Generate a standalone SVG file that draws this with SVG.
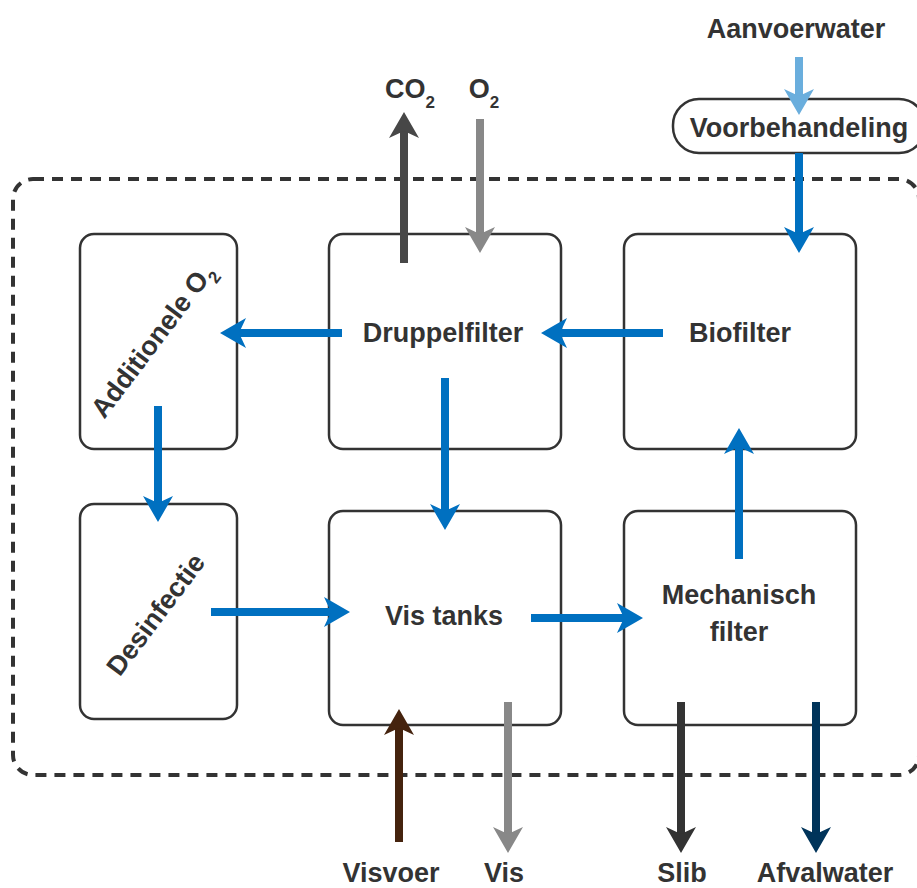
<svg xmlns="http://www.w3.org/2000/svg" width="917" height="888" viewBox="0 0 917 888">
<style>
.box{fill:#fff;stroke:#333;stroke-width:2.5}
.t{font-family:"Liberation Sans",Arial,sans-serif;font-weight:bold;font-size:27px;fill:#333;text-anchor:middle}
.sub{font-size:17px}
.a{fill:none;stroke-width:8}
</style>
<defs>
<marker id="hb" markerUnits="userSpaceOnUse" viewBox="0 0 26 30" refX="14" refY="15" markerWidth="26" markerHeight="30" orient="auto"><path d="M0,0 L26,15 L0,30 L7,15 Z" fill="#0070c0"/></marker>
<marker id="hl" markerUnits="userSpaceOnUse" viewBox="0 0 26 30" refX="14" refY="15" markerWidth="26" markerHeight="30" orient="auto"><path d="M0,0 L26,15 L0,30 L7,15 Z" fill="#6aaedd"/></marker>
<marker id="hd" markerUnits="userSpaceOnUse" viewBox="0 0 26 30" refX="14" refY="15" markerWidth="26" markerHeight="30" orient="auto"><path d="M0,0 L26,15 L0,30 L7,15 Z" fill="#474747"/></marker>
<marker id="hg" markerUnits="userSpaceOnUse" viewBox="0 0 26 30" refX="14" refY="15" markerWidth="26" markerHeight="30" orient="auto"><path d="M0,0 L26,15 L0,30 L7,15 Z" fill="#888"/></marker>
<marker id="hbr" markerUnits="userSpaceOnUse" viewBox="0 0 26 30" refX="14" refY="15" markerWidth="26" markerHeight="30" orient="auto"><path d="M0,0 L26,15 L0,30 L7,15 Z" fill="#45230e"/></marker>
<marker id="hk" markerUnits="userSpaceOnUse" viewBox="0 0 26 30" refX="14" refY="15" markerWidth="26" markerHeight="30" orient="auto"><path d="M0,0 L26,15 L0,30 L7,15 Z" fill="#333"/></marker>
<marker id="hn" markerUnits="userSpaceOnUse" viewBox="0 0 26 30" refX="14" refY="15" markerWidth="26" markerHeight="30" orient="auto"><path d="M0,0 L26,15 L0,30 L7,15 Z" fill="#00345a"/></marker>
</defs>
<rect x="0" y="0" width="917" height="888" fill="#fff"/>

<g id="boundary">
<rect x="13" y="179" width="906" height="596" rx="20" fill="none" stroke="#333" stroke-width="4" stroke-dasharray="11 8"/>
</g>

<g id="voorbehandeling">
<rect class="box" x="673" y="99" width="252" height="54" rx="26"/>
<text class="t" x="799" y="137">Voorbehandeling</text>
</g>
<g id="additionele">
<rect class="box" x="80" y="234" width="157" height="215" rx="14"/>
<text class="t" transform="translate(160,346) rotate(-53)" x="0" y="0">Additionele O<tspan class="sub" dy="8">2</tspan></text>
</g>
<g id="druppelfilter">
<rect class="box" x="329" y="234" width="232" height="215" rx="14"/>
<text class="t" x="443" y="342">Druppelfilter</text>
</g>
<g id="biofilter">
<rect class="box" x="624" y="234" width="232" height="215" rx="14"/>
<text class="t" x="740" y="342">Biofilter</text>
</g>
<g id="desinfectie">
<rect class="box" x="80" y="504" width="157" height="215" rx="14"/>
<text class="t" transform="translate(163,620) rotate(-53)" x="0" y="0">Desinfectie</text>
</g>
<g id="vistanks">
<rect class="box" x="329" y="511" width="232" height="214" rx="14"/>
<text class="t" x="444" y="625">Vis tanks</text>
</g>
<g id="mechanisch">
<rect class="box" x="624" y="511" width="232" height="214" rx="14"/>
<text class="t" x="739" y="604">Mechanisch</text>
<text class="t" x="739" y="641">filter</text>
</g>

<g id="labels">
<text class="t" x="796" y="38">Aanvoerwater</text>
<text class="t" x="410" y="98">CO<tspan class="sub" dy="10">2</tspan></text>
<text class="t" x="484" y="98">O<tspan class="sub" dy="10">2</tspan></text>
<text class="t" x="391" y="882">Visvoer</text>
<text class="t" x="504" y="882">Vis</text>
<text class="t" x="682" y="882">Slib</text>
<text class="t" x="825" y="882">Afvalwater</text>
</g>

<g id="connectors">
<path class="a" stroke="#6aaedd" d="M799,57 V103" marker-end="url(#hl)"/>
<path class="a" stroke="#0070c0" d="M799,153 V241" marker-end="url(#hb)"/>
<path class="a" stroke="#0070c0" d="M663,333 H553" marker-end="url(#hb)"/>
<path class="a" stroke="#0070c0" d="M342,333 H232" marker-end="url(#hb)"/>
<path class="a" stroke="#0070c0" d="M445,378 V518" marker-end="url(#hb)"/>
<path class="a" stroke="#0070c0" d="M158,406 V510" marker-end="url(#hb)"/>
<path class="a" stroke="#0070c0" d="M211,612 H338" marker-end="url(#hb)"/>
<path class="a" stroke="#0070c0" d="M531,618 H631" marker-end="url(#hb)"/>
<path class="a" stroke="#0070c0" d="M739,559 V440" marker-end="url(#hb)"/>
<path class="a" stroke="#474747" d="M404,263 V124" marker-end="url(#hd)"/>
<path class="a" stroke="#888" d="M480,119 V241" marker-end="url(#hg)"/>
<path class="a" stroke="#45230e" d="M399,842 V721" marker-end="url(#hbr)"/>
<path class="a" stroke="#888" d="M508,702 V841" marker-end="url(#hg)"/>
<path class="a" stroke="#333" d="M681,702 V841" marker-end="url(#hk)"/>
<path class="a" stroke="#00345a" d="M816,702 V841" marker-end="url(#hn)"/>
</g>
</svg>
